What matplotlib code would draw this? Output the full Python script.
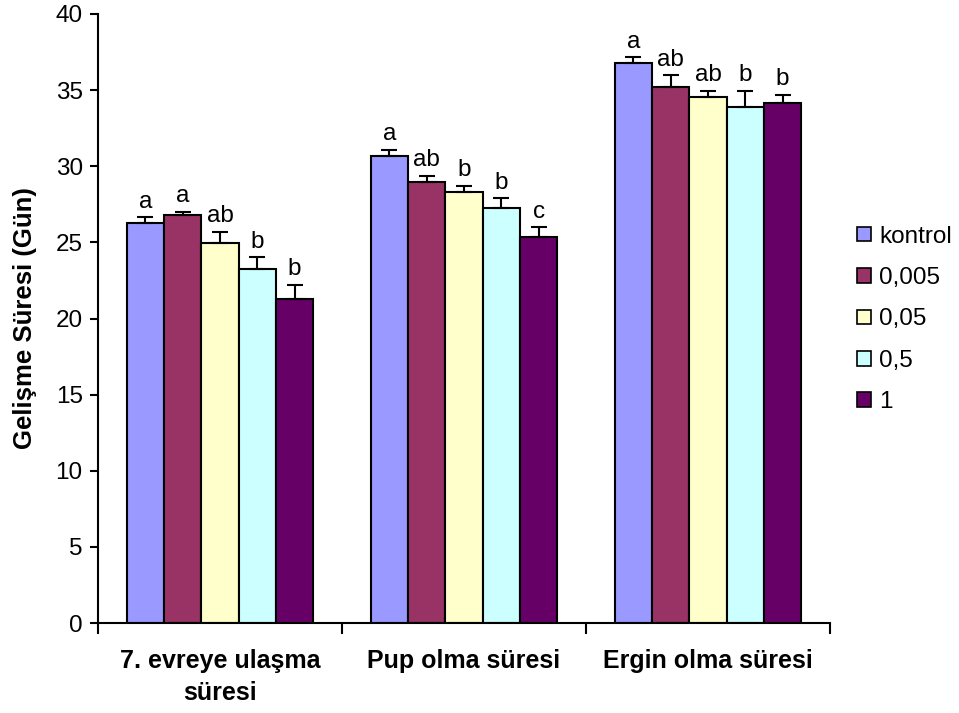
import numpy as np
import matplotlib
matplotlib.use("Agg")
import matplotlib.pyplot as plt

plt.rcParams["font.family"] = ["Liberation Sans", "DejaVu Sans"]

groups = ["7. evreye ulaşma\nsüresi", "Pup olma süresi", "Ergin olma süresi"]
series = ["kontrol", "0,005", "0,05", "0,5", "1"]
colors = ["#9999FF", "#993366", "#FFFFCC", "#CCFFFF", "#660066"]

# mean values per series, one entry per group
kontrol = [26.25, 30.67, 36.76]
d0005 = [26.78, 28.99, 35.19]
d005 = [24.96, 28.33, 34.55]
d05 = [23.25, 27.28, 33.91]
d1 = [21.30, 25.35, 34.15]

# upper error
err_kontrol = [0.40, 0.40, 0.40]
err_0005 = [0.22, 0.37, 0.79]
err_005 = [0.75, 0.37, 0.41]
err_05 = [0.77, 0.63, 1.05]
err_1 = [0.90, 0.64, 0.53]

# significance letters
let_kontrol = ["a", "a", "a"]
let_0005 = ["a", "ab", "ab"]
let_005 = ["ab", "b", "ab"]
let_05 = ["b", "b", "b"]
let_1 = ["b", "c", "b"]

values = [kontrol, d0005, d005, d05, d1]
errors = [err_kontrol, err_0005, err_005, err_05, err_1]
letters = [let_kontrol, let_0005, let_005, let_05, let_1]

fig = plt.figure(figsize=(9.59, 7.13), dpi=100)
ax = fig.add_axes([98 / 959, 1 - 623 / 713, (830 - 98) / 959, (623 - 14) / 713])

x = np.arange(len(groups))
w = 0.153
for i, (name, vals, errs, lets) in enumerate(zip(series, values, errors, letters)):
    pos = x + (i - 2) * w
    ax.bar(pos, vals, width=w, color=colors[i], edgecolor="black",
           linewidth=1.5, label=name, zorder=2)
    ax.errorbar(pos, vals, yerr=[np.zeros(len(vals)), errs], fmt="none",
                ecolor="black", elinewidth=1.5, capsize=5.5, capthick=1.5, zorder=3)
    for p, v, e, t in zip(pos, vals, errs, lets):
        ax.text(p, v + e + 0.3, t, ha="center", va="bottom", fontsize=17.5)

ax.set_xlim(-0.5, 2.5)
ax.set_ylim(0, 40)
ax.set_yticks(np.arange(0, 41, 5))
ax.tick_params(axis="y", labelsize=17.5, length=6, width=1.5, direction="out", pad=5)

ax.set_xticks([-0.5, 0.5, 1.5, 2.5])
ax.set_xticklabels([])
ax.tick_params(axis="x", which="major", length=8, width=1.5, direction="out")
ax.set_xticks(x, minor=True)
ax.set_xticklabels(groups, minor=True, fontsize=18, fontweight="bold", linespacing=1.4)
ax.tick_params(axis="x", which="minor", length=0, pad=19)

for s in ["top", "right"]:
    ax.spines[s].set_visible(False)
for s in ["left", "bottom"]:
    ax.spines[s].set_linewidth(1.5)

fig.text(0.026, 0.554, "Gelişme Süresi (Gün)", rotation=90, ha="center",
         va="center", fontsize=18.5, fontweight="bold")

leg = fig.legend(loc="center left", bbox_to_anchor=(0.884, 0.552), frameon=False,
                 fontsize=17.5, handlelength=0.55, handleheight=0.55,
                 handletextpad=0.35, labelspacing=0.8, borderaxespad=0)
for h in leg.legend_handles:
    h.set_linewidth(1.2)

fig.savefig("out.png", dpi=100)
